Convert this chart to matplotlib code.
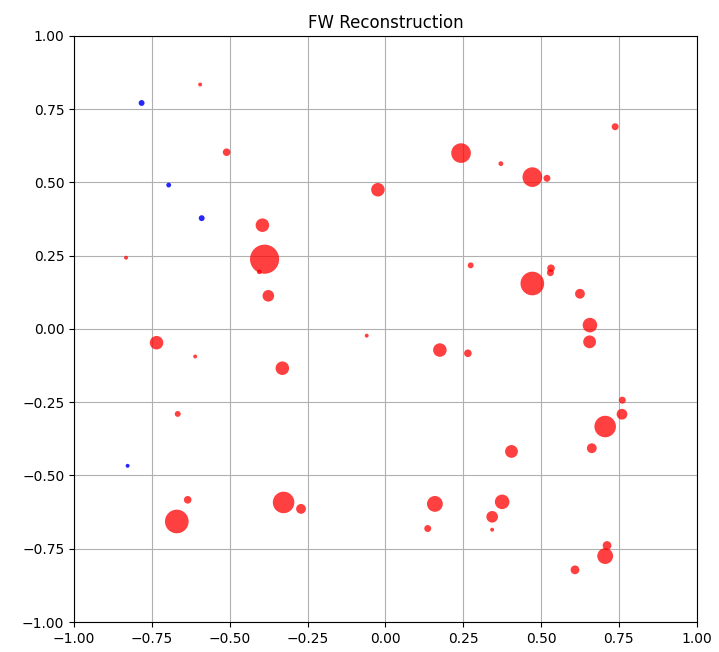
import matplotlib
matplotlib.use("Agg")
import matplotlib.pyplot as plt

# reconstructed sources (red) and reference points (blue)
red_x = [-0.595, -0.510, -0.024, -0.395, -0.388, -0.405, -0.376, -0.833,
         0.738, 0.243, 0.371, 0.472, 0.519, 0.274, 0.472, 0.532, 0.530,
         0.625, 0.657, -0.735, -0.611, -0.060, -0.331, -0.667, -0.635,
         -0.670, -0.327, -0.271, 0.656, 0.175, 0.265, 0.761, 0.760, 0.706,
         0.663, 0.405, 0.159, 0.136, 0.375, 0.343, 0.343, 0.712, 0.706, 0.609]
red_y = [0.834, 0.603, 0.475, 0.354, 0.238, 0.195, 0.113, 0.243,
         0.690, 0.600, 0.564, 0.518, 0.514, 0.217, 0.155, 0.207, 0.192,
         0.120, 0.013, -0.047, -0.094, -0.023, -0.134, -0.290, -0.583,
         -0.657, -0.592, -0.614, -0.044, -0.072, -0.083, -0.243, -0.291, -0.333,
         -0.407, -0.418, -0.597, -0.681, -0.590, -0.641, -0.685, -0.739, -0.775, -0.822]
red_s = [8, 30, 95, 95, 440, 12, 70, 8,
         25, 200, 12, 200, 25, 18, 290, 30, 25,
         50, 110, 95, 8, 8, 95, 18, 30,
         290, 240, 50, 85, 95, 30, 25, 60, 240,
         50, 85, 130, 25, 110, 70, 8, 40, 130, 40]

blue_x = [-0.783, -0.696, -0.590, -0.828]
blue_y = [0.771, 0.491, 0.378, -0.467]
blue_s = [18, 12, 18, 8]

fig = plt.figure(figsize=(7.19, 6.52), dpi=100)
ax = fig.add_axes([0.103, 0.046, 0.866, 0.899])

ax.scatter(red_x, red_y, s=red_s, c="red", alpha=0.75, linewidths=0)
ax.scatter(blue_x, blue_y, s=blue_s, c="blue", alpha=0.85, linewidths=0)

ax.set_xlim(-1, 1)
ax.set_ylim(-1, 1)
ax.set_title("FW Reconstruction")
ax.grid(True)
ax.set_axisbelow(True)

fig.savefig("out.png", dpi=100)
plt.close(fig)
